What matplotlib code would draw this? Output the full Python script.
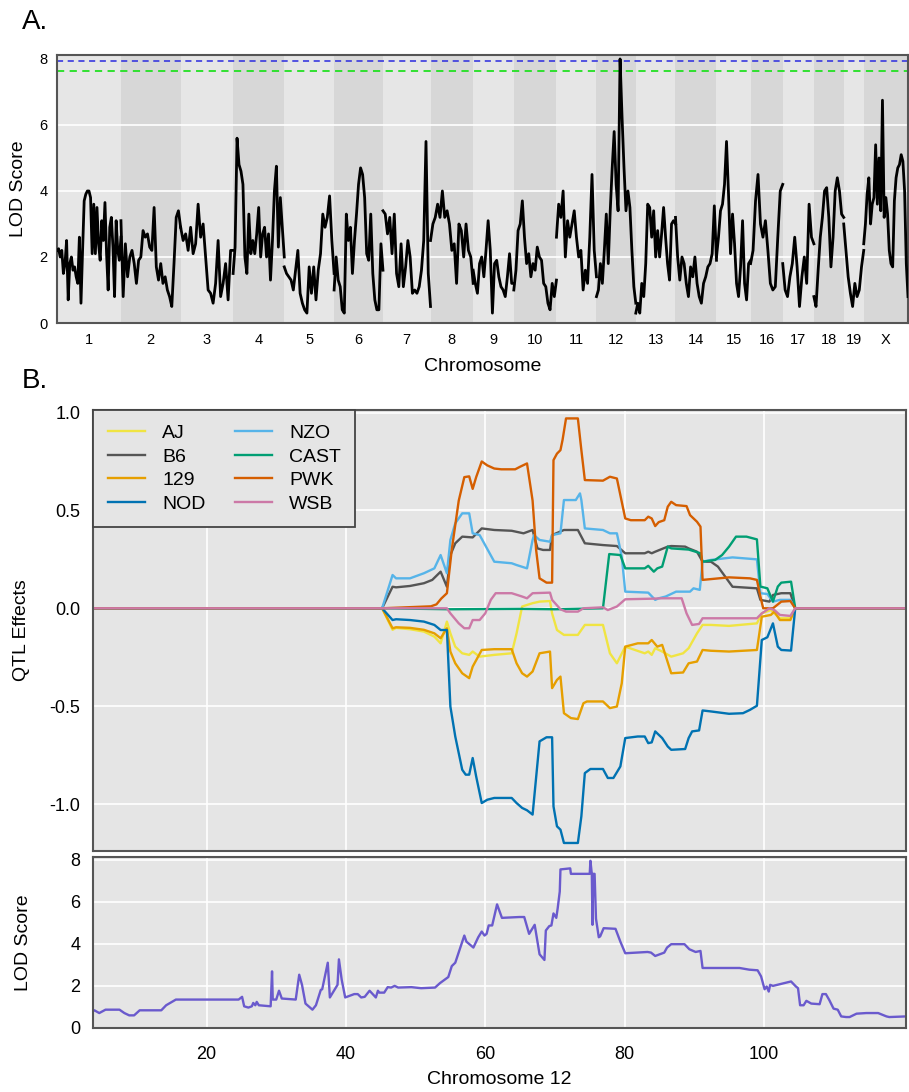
import matplotlib
matplotlib.use("Agg")
import matplotlib.pyplot as plt
import numpy as np

plt.rcParams['font.family'] = ['Liberation Sans', 'DejaVu Sans']
plt.rcParams['axes.unicode_minus'] = False

# ---- A. genome scan ----
chrom_names = ['1', '2', '3', '4', '5', '6', '7', '8', '9', '10', '11', '12',
               '13', '14', '15', '16', '17', '18', '19', 'X']
chrom_len = [195, 182, 160, 156, 152, 149, 145, 130, 124, 130, 122, 120,
             121, 125, 104, 98, 95, 91, 61, 135]

lod_chr1 = [2.2, 2.25, 2.0, 2.2, 1.5, 1.8, 2.5, 0.7, 1.8, 2.0, 1.6, 1.7, 1.4, 1.2, 2.6, 0.6,
            2.2, 3.7, 3.9, 4.0, 4.0, 3.8, 2.1, 3.6, 2.1, 3.5, 2.4, 1.9, 3.1, 2.5, 3.65, 2.1,
            1.0, 2.9, 3.2, 2.3, 0.8, 3.1, 2.2, 1.9, 2.6]
lod_chr2 = [3.1, 0.8, 2.4, 1.4, 2.0, 2.2, 1.8, 1.2, 1.9, 2.0, 2.8, 2.6, 2.7, 2.3, 2.2, 3.5,
            1.7, 1.3, 1.8, 1.2, 1.4, 1.0, 0.8, 0.5, 1.8, 3.2, 3.4, 2.9]
lod_chr3 = [2.9, 2.5, 2.7, 2.2, 2.9, 2.1, 2.4, 3.6, 2.6, 3.0, 2.0, 1.0, 0.9, 0.6, 1.2, 2.5,
            0.8, 1.2, 1.8, 0.7, 2.2, 2.2]
lod_chr4 = [1.5, 2.3, 5.6, 4.8, 4.6, 4.2, 2.0, 1.5, 3.3, 2.1, 2.5, 2.1, 2.7, 3.5, 2.0, 2.7,
            2.9, 2.0, 2.7, 1.3, 2.5, 4.0, 4.75, 2.3, 3.8, 2.9, 2.0]
lod_chr5 = [1.7, 1.5, 1.4, 1.3, 1.0, 1.6, 2.2, 0.9, 0.6, 0.4, 0.3, 1.7, 0.9, 1.7, 0.7, 1.6,
            2.1, 3.3, 2.9, 3.2, 3.85, 2.5, 1.5]
lod_chr6 = [1.0, 2.0, 1.3, 1.1, 0.4, 0.3, 3.3, 2.5, 2.9, 1.5, 2.5, 3.3, 4.2, 4.7, 4.5, 3.8,
            2.1, 1.9, 3.3, 1.5, 0.7, 0.4, 0.4, 2.4, 1.6]
lod_chr7 = [3.4, 3.3, 2.7, 3.2, 2.1, 3.3, 1.5, 1.1, 2.4, 1.1, 1.7, 2.5, 2.0, 0.9, 1.0, 0.9,
            1.1, 1.6, 2.5, 5.5, 1.5, 0.5]
lod_chr8 = [2.5, 3.0, 3.2, 3.6, 3.2, 4.0, 3.2, 3.4, 3.0, 2.2, 2.4, 1.2, 3.0, 2.8, 2.0, 3.0,
            2.2, 2.0, 1.2]
lod_chr9 = [1.6, 1.2, 0.9, 1.8, 2.0, 1.4, 2.2, 3.1, 2.2, 0.3, 1.8, 1.9, 1.4, 1.1, 1.0, 0.8,
            1.4, 2.1, 1.2, 1.2]
lod_chr10 = [1.0, 1.6, 2.8, 3.0, 3.7, 2.6, 1.8, 2.1, 1.4, 1.8, 1.6, 2.3, 2.0, 1.9, 1.2, 1.1,
             0.6, 0.4, 1.2, 0.8, 1.3]
lod_chr11 = [2.6, 3.6, 3.2, 4.0, 2.0, 3.1, 2.6, 3.0, 3.4, 2.6, 2.0, 2.2, 1.0, 1.6, 1.2, 2.6,
             4.5, 2.2, 1.4]
lod_chr12 = [0.8, 1.0, 1.8, 1.2, 2.2, 3.3, 1.8, 3.4, 4.7, 5.8, 4.2, 3.4, 8.0, 6.25, 4.7, 3.4,
             4.0, 3.5, 2.2, 1.1, 0.6]
lod_chr13 = [0.3, 0.6, 0.3, 1.2, 0.8, 1.8, 3.6, 3.5, 2.6, 3.4, 2.0, 2.8, 2.0, 2.7, 3.5, 2.6,
             1.8, 1.3, 3.0, 3.1, 3.0]
lod_chr14 = [3.2, 2.0, 1.3, 2.0, 1.8, 1.2, 0.8, 1.7, 1.4, 2.0, 1.2, 0.8, 0.6, 1.2, 1.4, 1.7,
             1.8, 2.1, 3.55, 1.9]
lod_chr15 = [2.0, 2.6, 3.4, 3.6, 4.2, 5.5, 3.9, 2.1, 3.3, 2.4, 1.2, 0.8, 1.7, 3.1, 1.2, 0.7,
             1.8, 1.9]
lod_chr16 = [1.8, 2.2, 3.7, 4.5, 3.0, 2.6, 3.1, 2.2, 1.2, 1.0, 1.1, 2.6, 4.0, 4.2]
lod_chr17 = [1.8, 1.0, 0.8, 1.4, 1.8, 2.6, 1.7, 0.5, 1.4, 2.0, 1.2, 3.6, 2.6, 2.4]
lod_chr18 = [0.8, 0.5, 1.6, 2.6, 3.2, 4.0, 4.1, 3.2, 1.7, 2.6, 4.0, 4.4, 4.0, 3.3, 3.2]
lod_chr19 = [3.0, 2.2, 1.4, 0.9, 0.5, 1.2, 0.8, 1.0, 1.7, 2.2]
lod_chrX = [2.4, 3.0, 3.9, 4.4, 3.0, 3.6, 3.8, 5.4, 3.6, 5.0, 3.4, 6.75, 3.2, 3.8, 3.3, 2.2,
            1.8, 1.7, 3.7, 4.4, 4.7, 4.8, 5.1, 4.9, 4.0, 1.8, 0.8]

genome_lod = [lod_chr1, lod_chr2, lod_chr3, lod_chr4, lod_chr5, lod_chr6, lod_chr7,
              lod_chr8, lod_chr9, lod_chr10, lod_chr11, lod_chr12, lod_chr13, lod_chr14,
              lod_chr15, lod_chr16, lod_chr17, lod_chr18, lod_chr19, lod_chrX]
thr_high = 7.94
thr_low = 7.64

# ---- B. chromosome 12 founder effects (Mb, effect) ----
chr12_start, chr12_end = 3.7, 120.4

eff_aj = [(3.7, 0), (45.2, 0), (46.7, -0.11), (47.2, -0.10), (49.2, -0.107), (51.2, -0.119),
          (52.7, -0.145), (53.6, -0.179), (54.5, -0.068), (55.0, -0.128), (55.7, -0.196),
          (56.7, -0.23), (57.7, -0.238), (58.2, -0.221), (59.2, -0.247), (61.3, -0.238),
          (63.8, -0.23), (64.5, -0.128), (65.3, 0.009), (66.0, 0.017), (66.8, 0.026),
          (67.8, 0.034), (69.3, 0.037), (69.6, -0.026), (70.3, -0.111), (71.3, -0.136),
          (73.3, -0.136), (74.3, -0.085), (76.9, -0.085), (77.9, -0.23), (78.9, -0.281),
          (80.1, -0.196), (82.9, -0.23), (83.4, -0.221), (83.9, -0.238), (84.4, -0.204),
          (85.4, -0.221), (86.7, -0.247), (88.4, -0.23), (89.2, -0.204), (90.4, -0.128),
          (91.2, -0.085), (92.4, -0.085), (95.0, -0.09), (99.0, -0.077), (99.7, -0.026),
          (101.0, -0.009), (101.5, -0.026), (102.3, -0.051), (103.8, -0.051), (104.5, 0),
          (120.4, 0)]
eff_b6 = [(3.7, 0), (45.2, 0), (46.7, 0.11), (47.2, 0.107), (49.2, 0.114), (51.2, 0.128),
          (52.4, 0.145), (53.6, 0.187), (54.5, 0.11), (55.0, 0.272), (55.7, 0.332),
          (56.7, 0.366), (58.2, 0.362), (59.5, 0.408), (61.3, 0.40), (63.8, 0.396),
          (65.5, 0.383), (66.8, 0.40), (67.5, 0.306), (68.3, 0.298), (69.3, 0.298),
          (69.6, 0.374), (71.3, 0.40), (73.3, 0.40), (74.3, 0.332), (76.9, 0.323),
          (78.9, 0.318), (80.1, 0.281), (82.9, 0.281), (83.4, 0.289), (83.9, 0.281),
          (84.4, 0.289), (86.2, 0.315), (86.7, 0.318), (88.7, 0.315), (89.2, 0.306),
          (90.4, 0.289), (91.2, 0.238), (92.4, 0.238), (93.4, 0.213), (95.5, 0.11),
          (99.0, 0.102), (99.5, 0.043), (100.8, 0.034), (101.3, 0.068), (102.5, 0.077),
          (103.8, 0.077), (104.5, 0), (120.4, 0)]
eff_129 = [(3.7, 0), (45.2, 0), (46.7, -0.102), (47.2, -0.097), (49.2, -0.10), (51.2, -0.11),
           (52.7, -0.128), (53.6, -0.153), (54.5, -0.102), (55.0, -0.221), (55.7, -0.281),
           (56.7, -0.332), (57.7, -0.357), (58.2, -0.298), (59.5, -0.213), (61.3, -0.209),
           (63.8, -0.209), (64.5, -0.281), (65.3, -0.332), (66.0, -0.349), (66.8, -0.323),
           (67.8, -0.23), (69.3, -0.221), (69.6, -0.408), (70.3, -0.366), (70.8, -0.349),
           (71.3, -0.536), (72.3, -0.561), (73.3, -0.566), (74.1, -0.485), (74.6, -0.476),
           (76.9, -0.476), (77.9, -0.51), (78.9, -0.502), (79.6, -0.383), (80.1, -0.196),
           (81.9, -0.179), (83.4, -0.179), (83.9, -0.162), (84.7, -0.196), (85.4, -0.187),
           (86.7, -0.332), (88.4, -0.328), (89.2, -0.281), (90.4, -0.272), (91.2, -0.213),
           (92.4, -0.217), (95.0, -0.221), (99.0, -0.213), (99.7, -0.043), (101.0, -0.034),
           (101.5, -0.017), (102.3, -0.06), (103.8, -0.06), (104.5, 0), (120.4, 0)]
eff_nod = [(3.7, 0), (45.2, 0), (46.7, -0.06), (47.2, -0.056), (49.2, -0.06), (51.2, -0.068),
           (52.7, -0.085), (53.6, -0.111), (54.5, -0.111), (55.0, -0.502), (55.7, -0.655),
           (56.7, -0.825), (57.2, -0.85), (57.7, -0.85), (58.2, -0.765), (58.7, -0.859),
           (59.5, -0.995), (60.3, -0.978), (61.3, -0.969), (63.8, -0.969), (64.5, -0.995),
           (65.3, -1.02), (66.0, -1.032), (66.8, -1.054), (67.8, -0.68), (68.8, -0.659),
           (69.6, -0.659), (69.8, -1.012), (70.3, -1.114), (70.8, -1.131), (71.3, -1.199),
           (73.3, -1.199), (73.8, -1.063), (74.3, -0.842), (75.1, -0.821), (76.9, -0.821),
           (77.6, -0.867), (78.4, -0.867), (79.4, -0.808), (80.1, -0.663), (81.9, -0.655),
           (82.9, -0.655), (83.4, -0.689), (83.9, -0.685), (84.4, -0.629), (85.4, -0.663),
           (86.2, -0.706), (86.7, -0.723), (88.7, -0.719), (89.2, -0.663), (89.7, -0.629),
           (90.7, -0.624), (91.2, -0.522), (92.4, -0.527), (95.0, -0.539), (97.0, -0.536),
           (98.0, -0.519), (99.0, -0.498), (99.7, -0.162), (100.5, -0.148), (101.3, -0.077),
           (102.0, -0.196), (102.5, -0.213), (103.9, -0.216), (104.5, 0), (120.4, 0)]
eff_nzo = [(3.7, 0), (45.2, 0), (46.7, 0.17), (47.2, 0.153), (49.2, 0.153), (51.2, 0.179),
           (52.7, 0.204), (53.6, 0.272), (54.5, 0.179), (55.0, 0.349), (55.7, 0.434),
           (56.7, 0.485), (57.7, 0.485), (58.2, 0.383), (59.2, 0.374), (61.3, 0.238),
           (63.8, 0.23), (64.5, 0.221), (66.0, 0.204), (66.8, 0.349), (67.0, 0.374),
           (67.8, 0.349), (69.3, 0.34), (69.6, 0.374), (70.8, 0.383), (71.3, 0.553),
           (73.0, 0.553), (73.6, 0.587), (73.8, 0.553), (74.3, 0.408), (76.9, 0.40),
           (77.9, 0.383), (78.9, 0.383), (79.6, 0.264), (80.1, 0.085), (83.4, 0.08),
           (84.4, 0.043), (84.9, 0.051), (85.9, 0.06), (87.4, 0.085), (89.4, 0.085),
           (89.9, 0.102), (90.8, 0.094), (91.2, 0.238), (92.4, 0.247), (95.5, 0.26),
           (99.0, 0.25), (99.5, 0.077), (100.5, 0.073), (101.3, 0.034), (102.3, 0.043),
           (103.8, 0.043), (104.5, 0), (120.4, 0)]
eff_cast = [(3.7, 0), (45.2, 0), (55.0, -0.005), (65.0, -0.003), (70.0, -0.005), (76.9, 0),
            (77.8, 0.277), (79.4, 0.272), (80.1, 0.204), (82.9, 0.204), (83.4, 0.217),
            (84.2, 0.187), (84.7, 0.204), (85.4, 0.213), (86.2, 0.315), (86.7, 0.306),
            (89.2, 0.30), (90.2, 0.289), (90.9, 0.281), (91.2, 0.238), (93.0, 0.247),
            (94.0, 0.272), (95.0, 0.315), (96.0, 0.366), (97.5, 0.366), (99.0, 0.352),
            (99.5, 0.111), (100.5, 0.102), (101.3, 0.034), (102.0, 0.111), (102.5, 0.131),
            (103.9, 0.136), (104.5, 0), (120.4, 0)]
eff_pwk = [(3.7, 0), (45.2, 0), (52.2, 0.01), (53.0, 0.02), (53.7, 0.05), (54.5, 0.077),
           (55.2, 0.30), (56.2, 0.55), (57.0, 0.67), (57.7, 0.674), (58.2, 0.61), (58.7, 0.67),
           (59.5, 0.75), (60.3, 0.73), (61.3, 0.714), (62.3, 0.71), (64.3, 0.71), (65.0, 0.723),
           (66.0, 0.74), (66.8, 0.55), (67.3, 0.30), (67.8, 0.153), (68.8, 0.131),
           (69.6, 0.131), (69.8, 0.757), (70.3, 0.79), (70.8, 0.808), (71.1, 0.86),
           (71.6, 0.97), (73.3, 0.97), (73.8, 0.808), (74.3, 0.655), (76.9, 0.652),
           (77.9, 0.672), (78.9, 0.663), (80.1, 0.459), (80.9, 0.45), (82.9, 0.45),
           (83.4, 0.468), (83.9, 0.459), (84.4, 0.42), (84.9, 0.44), (85.7, 0.45),
           (86.2, 0.519), (86.7, 0.544), (87.4, 0.527), (88.9, 0.522), (89.4, 0.476),
           (90.4, 0.442), (90.9, 0.417), (91.2, 0.145), (95.0, 0.158), (98.0, 0.153),
           (99.0, 0.145), (99.5, 0.06), (99.9, 0.0), (101.3, 0.0), (102.5, 0.034),
           (103.8, 0.037), (104.5, 0), (120.4, 0)]
eff_wsb = [(3.7, 0), (45.2, 0), (54.5, 0), (55.0, -0.026), (56.2, -0.077), (57.0, -0.102),
           (57.7, -0.102), (58.2, -0.06), (59.2, -0.06), (60.0, -0.026), (60.8, 0.043),
           (61.5, 0.077), (63.8, 0.077), (65.3, 0.06), (66.0, 0.051), (66.8, 0.077),
           (69.3, 0.08), (69.6, 0.043), (70.8, -0.005), (71.6, -0.017), (73.3, -0.017),
           (74.1, 0), (76.9, 0.005), (77.6, -0.009), (78.9, 0.009), (80.1, 0.046),
           (83.9, 0.049), (85.4, 0.051), (88.2, 0.051), (88.9, -0.026), (89.7, -0.085),
           (90.7, -0.08), (91.2, -0.051), (99.0, -0.051), (99.7, -0.026), (100.8, 0),
           (101.5, -0.009), (102.3, -0.034), (103.8, -0.039), (104.5, 0), (120.4, 0)]

founders = ['AJ', 'B6', '129', 'NOD', 'NZO', 'CAST', 'PWK', 'WSB']
founder_colors = ['#F0E442', '#555555', '#E69F00', '#0072B2',
                  '#56B4E9', '#009E73', '#D55E00', '#CC79A7']
founder_effects = [eff_aj, eff_b6, eff_129, eff_nod, eff_nzo, eff_cast, eff_pwk, eff_wsb]

# ---- chromosome 12 LOD (Mb, LOD) ----
chr12_scan = [(3.5, 0.76), (3.9, 0.84), (4.6, 0.71), (5.5, 0.87), (7.5, 0.87), (8.2, 0.71),
              (8.9, 0.6), (9.6, 0.6), (10.4, 0.84), (13.5, 0.84), (14.2, 1.08), (15.6, 1.35),
              (24.6, 1.35), (25.1, 1.48), (25.4, 1.03), (26.0, 0.97), (26.5, 1.03),
              (26.7, 1.19), (27.0, 1.08), (27.2, 1.24), (27.5, 1.08), (29.2, 1.03),
              (29.4, 2.69), (29.5, 1.35), (30.0, 1.35), (30.4, 1.77), (30.8, 1.40),
              (32.8, 1.35), (33.3, 2.53), (33.7, 2.05), (34.2, 1.16), (35.2, 0.87),
              (35.7, 1.08), (36.4, 1.81), (36.6, 1.84), (37.4, 3.10), (37.7, 1.45),
              (38.8, 2.05), (39.0, 3.26), (39.4, 2.29), (39.9, 1.45), (41.2, 1.61),
              (41.7, 1.61), (42.2, 1.45), (42.7, 1.48), (43.4, 1.77), (44.3, 1.45),
              (44.6, 1.77), (44.8, 1.68), (45.5, 1.68), (46.0, 1.94), (46.5, 1.92),
              (47.0, 2.0), (47.5, 1.92), (49.4, 1.94), (50.8, 1.89), (52.8, 1.92),
              (53.5, 2.13), (54.7, 2.42), (55.2, 2.94), (55.7, 3.10), (56.1, 3.5),
              (57.0, 4.39), (57.3, 4.1), (58.3, 3.82), (59.0, 4.31), (59.5, 4.58),
              (59.9, 4.39), (60.2, 4.47), (60.5, 4.87), (61.0, 4.87), (61.7, 5.87),
              (62.4, 5.23), (64.9, 5.27), (65.6, 5.27), (66.3, 4.47), (67.1, 4.9),
              (67.8, 3.5), (68.5, 3.23), (68.7, 4.63), (69.2, 4.84), (69.5, 4.87),
              (69.8, 5.44), (70.2, 5.23), (70.4, 5.68), (70.7, 6.48), (70.8, 7.53),
              (72.2, 7.58), (72.3, 7.32), (75.0, 7.32), (75.1, 7.94), (75.3, 7.32),
              (75.4, 4.9), (75.5, 7.32), (75.7, 7.32), (75.9, 5.19), (76.3, 4.31),
              (76.5, 4.35), (77.0, 4.74), (78.7, 4.71), (79.4, 4.1), (80.1, 3.55),
              (83.3, 3.61), (83.8, 3.58), (84.4, 3.42), (85.7, 3.58), (86.1, 3.82),
              (86.7, 3.98), (88.6, 3.98), (89.3, 3.74), (90.2, 3.61), (90.9, 3.66),
              (91.2, 2.85), (96.5, 2.85), (97.9, 2.77), (99.1, 2.74), (99.6, 2.45),
              (100.1, 1.84), (100.4, 1.97), (100.7, 1.73), (100.9, 2.05), (101.3, 2.0),
              (103.9, 2.21), (104.6, 1.97), (104.9, 1.89), (105.2, 1.08), (105.7, 1.08),
              (106.1, 1.29), (106.8, 1.16), (108.0, 1.13), (108.4, 1.61), (108.9, 1.61),
              (109.4, 1.32), (110.0, 0.92), (110.6, 0.87), (111.1, 0.55), (111.8, 0.52),
              (112.3, 0.52), (113.3, 0.68), (114.7, 0.71), (116.4, 0.71), (117.6, 0.55),
              (118.0, 0.52), (120.4, 0.55)]

bg = '#e5e5e5'
edge = '#555555'

fig = plt.figure(figsize=(9.09, 10.92), dpi=100)
axA = fig.add_axes([57 / 909, 1 - 323 / 1092, 851 / 909, 268 / 1092])
axB = fig.add_axes([93 / 909, 1 - 851 / 1092, 813 / 909, 441 / 1092])
axC = fig.add_axes([93 / 909, 1 - 1028 / 1092, 813 / 909, 171 / 1092], sharex=axB)

# panel A
starts = np.concatenate([[0], np.cumsum(chrom_len)[:-1]])
total = float(np.sum(chrom_len))
for i, (s, L, vals) in enumerate(zip(starts, chrom_len, genome_lod)):
    axA.axvspan(s, s + L, color='#e6e6e6' if i % 2 == 0 else '#d7d7d7', lw=0, zorder=0)
    x = np.linspace(s, s + L, len(vals))
    axA.plot(x, vals, color='black', lw=2.0, zorder=3)
for y in [2, 4, 6]:
    axA.axhline(y, color='white', lw=1.2, zorder=1)
axA.axhline(thr_high, color='#2a2adf', lw=1.1, ls=(0, (4, 3)), zorder=2)
axA.axhline(thr_low, color='#22e022', lw=1.3, ls=(0, (4, 3)), zorder=2)
axA.set_xlim(0, total)
axA.set_ylim(0, 8.12)
axA.set_xticks(starts + np.array(chrom_len) / 2)
axA.set_xticklabels(chrom_names)
axA.set_yticks([0, 2, 4, 6, 8])
axA.tick_params(length=0, labelsize=10.5, pad=7)
axA.set_xlabel('Chromosome', fontsize=14, labelpad=8)
axA.set_ylabel('LOD Score', fontsize=14)
axA.yaxis.set_label_coords(-0.035, 0.5)

# panel B effects
for name, col, pts in zip(founders, founder_colors, founder_effects):
    xs, ys = np.array(pts).T
    axB.plot(xs, ys, color=col, lw=1.7, label=name)
axB.set_facecolor(bg)
axB.grid(color='white', lw=1.2)
axB.set_axisbelow(True)
axB.set_xlim(chr12_start, chr12_end)
axB.set_ylim(-1.24, 1.013)
axB.set_yticks([-1.0, -0.5, 0.0, 0.5, 1.0])
axB.set_yticklabels(['-1.0', '-0.5', '0.0', '0.5', '1.0'])
axB.set_xticks([20, 40, 60, 80, 100])
axB.tick_params(labelbottom=False, length=0, labelsize=13, pad=9)
axB.set_ylabel('QTL Effects', fontsize=14)
axB.yaxis.set_label_coords(-0.078, 0.5)
leg = axB.legend(loc='upper left', ncol=2, fontsize=14, frameon=True, fancybox=False,
                 borderaxespad=0, borderpad=0.75, labelspacing=0.3, handlelength=1.9,
                 handletextpad=0.9, columnspacing=1.5)
leg.get_frame().set_facecolor(bg)
leg.get_frame().set_edgecolor('#444444')
leg.get_frame().set_linewidth(1.3)
leg.get_frame().set_alpha(1)

# panel B LOD on chr12
cx, cy = np.array(chr12_scan).T
axC.plot(cx, cy, color='#6a5acd', lw=1.7)
axC.set_facecolor(bg)
axC.grid(color='white', lw=1.2)
axC.set_axisbelow(True)
axC.set_ylim(0, 8.12)
axC.set_yticks([0, 2, 4, 6, 8])
axC.tick_params(length=0, labelsize=13, pad=9)
axC.tick_params(axis='x', pad=13)
axC.set_xlabel('Chromosome 12', fontsize=14, labelpad=6)
axC.set_ylabel('LOD Score', fontsize=14)
axC.yaxis.set_label_coords(-0.075, 0.5)

for ax in (axA, axB, axC):
    for sp in ax.spines.values():
        sp.set_color(edge)
        sp.set_linewidth(1.5)

fig.text(22 / 909, 1 - 22 / 1092, 'A.', fontsize=20, va='center', ha='left')
fig.text(22 / 909, 1 - 381 / 1092, 'B.', fontsize=20, va='center', ha='left')

fig.savefig('out.png', dpi=100)
